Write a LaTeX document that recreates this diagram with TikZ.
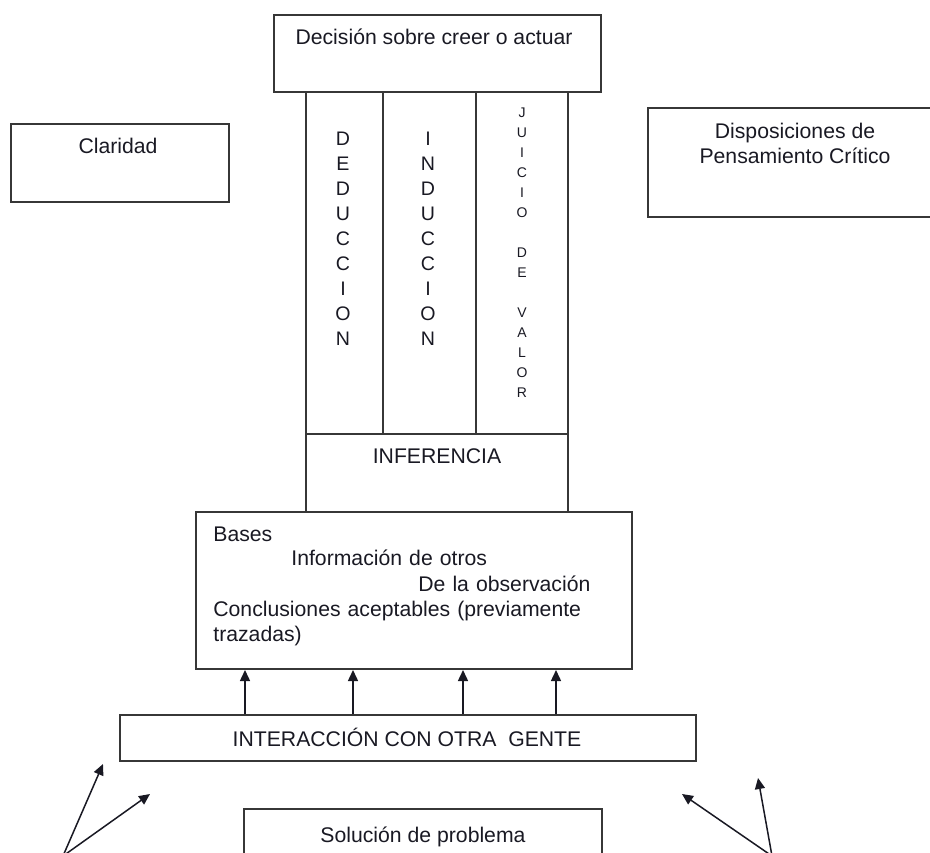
\documentclass[tikz,border=0pt]{standalone}
\usepackage{fontspec}
\setmainfont{Liberation Sans}
\usepackage{tikz}
\usetikzlibrary{arrows.meta, fit, positioning}
\definecolor{mydark}{RGB}{25,25,35}
\definecolor{myline}{RGB}{55,55,55}
\tikzset{
  box/.style={rectangle, draw=myline, line width=1pt, inner sep=0pt},
  txt/.style={inner sep=0pt, text=mydark,
    font=\fontsize{10.6}{12.5}\selectfont},
  colbig/.style={inner sep=0pt, align=center, text=mydark,
    font=\fontsize{9.8}{12.5}\selectfont},
  colsmall/.style={inner sep=0pt, align=center, text=mydark,
    font=\fontsize{7}{10}\selectfont},
  arrow/.style={-{Triangle[length=5.5pt,width=5pt]}, line width=0.75pt, color=mydark}
}

\begin{document}
\begin{tikzpicture}[x=0.5pt, y=-0.5pt]
  \useasboundingbox (0,0) rectangle (930,852);

  % Decision box on top
  \node[box, fit={(274,15) (601,92)}] (dec) {};
  \node[txt, anchor=base] (dectxt) at (434,44) {Decisión sobre creer o actuar};

  % Three columns and inference
  \node[box, fit={(306,92) (383,434)}] (ded) {};
  \node[box, fit={(383,92) (476,434)}] (ind) {};
  \node[box, fit={(476,92) (568,434)}] (jui) {};
  \node[box, fit={(306,434) (568,512)}] (inf) {};
  \node[colbig, anchor=north] (dedtxt) at (343,132) {D\\E\\D\\U\\C\\C\\I\\O\\N};
  \node[colbig, anchor=north] (indtxt) at (428,132) {I\\N\\D\\U\\C\\C\\I\\O\\N};
  \node[colsmall, anchor=north] (juitxt) at (522,107)
    {J\\U\\I\\C\\I\\O\\~\\D\\E\\~\\V\\A\\L\\O\\R};
  \node[txt, anchor=base] (inftxt) at (437,463) {INFERENCIA};

  % Side boxes
  \node[box, fit={(11,124) (229,202)}] (cla) {};
  \node[txt, anchor=base] (clatxt) at (118,153) {Claridad};
  \node[box, fit={(648,108) (942,217)}] (dis) {};
  \node[txt, align=center, anchor=north] (distxt) at (795,123)
    {Disposiciones de\\Pensamiento Crítico};

  % Bases
  \node[box, fit={(196,512) (632,669)}] (bases) {};
  \node[txt, text width=188.5pt, align=left, anchor=north west] (basestxt) at (213,526)
    {Bases\\
     \hspace*{39pt}Información de otros\\
     \makebox[\linewidth][r]{De la observación}\\
     \makebox[\linewidth][s]{Conclusiones aceptables (previamente}\\
     trazadas)};

  % Interaction with other people
  \node[box, fit={(120,715) (696,761)}] (inter) {};
  \node[txt, anchor=base] (intertxt) at (407,746) {INTERACCIÓN CON OTRA\ \ GENTE};
  \foreach \x [count=\i] in {245,353,463,556} {
    \coordinate (p\i) at (\x,0);
    \draw[arrow] (inter.north -| p\i) -- (bases.south -| p\i);
  }

  % Problem solving
  \node[box, fit={(244,809) (602,880)}] (sol) {};
  \node[txt, anchor=base] (soltxt) at (423,842) {Solución de problema};

  % Loose arrows at the bottom
  \coordinate (lroot) at (63,856);
  \coordinate (ltipa) at (103,764);
  \coordinate (ltipb) at (150,794);
  \coordinate (rroot) at (772,856);
  \coordinate (rtipa) at (682,794);
  \coordinate (rtipb) at (758,778);
  \draw[arrow] (lroot) -- (ltipa);
  \draw[arrow] (lroot) -- (ltipb);
  \draw[arrow] (rroot) -- (rtipa);
  \draw[arrow] (rroot) -- (rtipb);
\end{tikzpicture}
\end{document}
